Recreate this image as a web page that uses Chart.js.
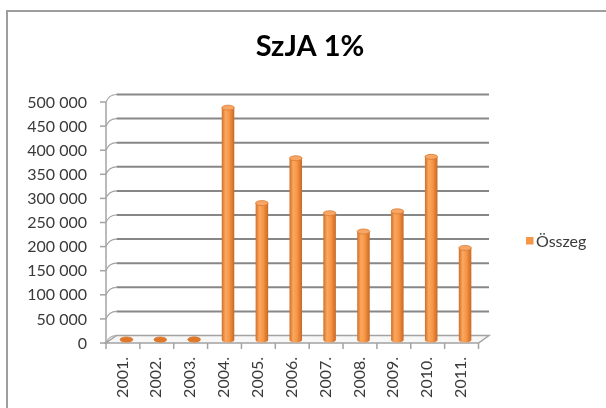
<!DOCTYPE html>
<html>
<head>
<meta charset="utf-8">
<script src="https://cdn.jsdelivr.net/npm/chart.js@4.4.1/dist/chart.umd.min.js"></script>
<style>
    html, body { margin: 0; padding: 0; background: #fff; }
    #wrap { width: 606px; height: 408px; }
</style>
</head>
<body>
<div id="wrap"><canvas id="myChart" width="606" height="408"></canvas></div>
<script>
// chart data
const chartTitle = 'SzJA 1%';
const seriesName = 'Összeg';
const years = ['2001.', '2002.', '2003.', '2004.', '2005.', '2006.', '2007.', '2008.', '2009.', '2010.', '2011.'];
const amounts = [1200, 1000, 1300, 482000, 284000, 377000, 263000, 225000, 267000, 380000, 191000];
const yTicks = [0, 50000, 100000, 150000, 200000, 250000, 300000, 350000, 400000, 450000, 500000];

const orange = '#F79646';
const gridColor = '#878787';
const axisColor = '#a3a3a3';
const textColor = '#3a3a3a';

// 3D offsets relative to the plane the bars stand in
const front = { dx: -3.5, dy: 3 };
const back = { dx: 7, dy: -4.5 };

function formatNumber(v) {
    return String(v).replace(/\B(?=(\d{3})+(?!\d))/g, ' ');
}

const excelLook = {
    id: 'excelLook',
    beforeDraw(chart) {
        const c = chart.ctx;
        c.save();
        c.fillStyle = '#fff';
        c.fillRect(0, 0, chart.width, chart.height);
        // outer frame (only top and left are inside the picture)
        c.strokeStyle = '#9e9e9e';
        c.lineWidth = 2;
        c.beginPath();
        c.moveTo(7, chart.height + 2);
        c.lineTo(7, 11);
        c.lineTo(chart.width + 2, 11);
        c.stroke();

        // title
        c.fillStyle = '#000';
        c.font = 'bold 29px Lato';
        c.textAlign = 'center';
        c.textBaseline = 'middle';
        c.fillText(chartTitle, 310, 47);

        // legend
        c.fillStyle = orange;
        c.fillRect(526, 237, 7.5, 7.5);
        c.fillStyle = textColor;
        c.font = '16px Lato';
        c.textAlign = 'left';
        c.fillText(seriesName, 536, 241.5);
        c.restore();
    },
    beforeDatasetsDraw(chart) {
        const c = chart.ctx;
        const a = chart.chartArea;
        const ys = chart.scales.y;
        const xs = chart.scales.x;
        const base = ys.getPixelForValue(0);
        c.save();

        // floor
        c.beginPath();
        c.moveTo(a.left + front.dx, base + front.dy);
        c.lineTo(a.right + front.dx, base + front.dy);
        c.lineTo(a.right + back.dx, base + back.dy);
        c.lineTo(a.left + back.dx, base + back.dy);
        c.closePath();
        c.fillStyle = '#f7f7f7';
        c.fill();
        c.strokeStyle = axisColor;
        c.lineWidth = 1.5;
        c.stroke();

        // back wall gridlines and the little side connectors
        yTicks.forEach(v => {
            const y = ys.getPixelForValue(v);
            c.beginPath();
            c.moveTo(a.left + front.dx, y + front.dy);
            c.quadraticCurveTo(a.left + front.dx + 3, y + back.dy, a.left + back.dx, y + back.dy);
            c.strokeStyle = axisColor;
            c.lineWidth = 1.2;
            c.stroke();
            if (v > 0) {
                c.beginPath();
                c.moveTo(a.left + back.dx, y + back.dy);
                c.lineTo(a.right + back.dx, y + back.dy);
                c.strokeStyle = gridColor;
                c.lineWidth = 2;
                c.stroke();
            }
            // tick mark on the front axis
            c.beginPath();
            c.moveTo(a.left + front.dx - 6, y + front.dy);
            c.lineTo(a.left + front.dx, y + front.dy);
            c.strokeStyle = axisColor;
            c.lineWidth = 1.5;
            c.stroke();
        });

        // front vertical axis
        c.beginPath();
        c.moveTo(a.left + front.dx, ys.getPixelForValue(yTicks[yTicks.length - 1]) + front.dy);
        c.lineTo(a.left + front.dx, base + front.dy);
        c.strokeStyle = axisColor;
        c.lineWidth = 1.5;
        c.stroke();

        // category ticks on the front edge
        const step = xs.getPixelForValue(1) - xs.getPixelForValue(0);
        for (let i = 0; i <= years.length; i++) {
            const x = xs.getPixelForValue(0) - step / 2 + i * step + front.dx;
            c.beginPath();
            c.moveTo(x, base + front.dy);
            c.lineTo(x, base + front.dy + 6);
            c.stroke();
        }
        c.restore();
    },
    afterDatasetsDraw(chart) {
        const c = chart.ctx;
        const meta = chart.getDatasetMeta(0);
        c.save();
        meta.data.forEach(bar => {
            const w = bar.width;
            const x0 = bar.x - w / 2;
            const ry = 2.5;
            const grad = c.createLinearGradient(x0, 0, x0 + w, 0);
            grad.addColorStop(0, '#d06f26');
            grad.addColorStop(0.3, '#fba75f');
            grad.addColorStop(0.6, '#f79646');
            grad.addColorStop(1, '#c96823');

            c.fillStyle = grad;
            c.beginPath();
            c.moveTo(x0, bar.y);
            c.lineTo(x0, bar.base);
            c.ellipse(bar.x, bar.base, w / 2, ry, 0, Math.PI, 0, true);
            c.lineTo(x0 + w, bar.y);
            c.closePath();
            c.fill();

            c.beginPath();
            c.ellipse(bar.x, bar.y, w / 2, ry, 0, 0, Math.PI * 2);
            c.fillStyle = bar.base - bar.y < 2 ? '#e0782c' : '#f8a665';
            c.fill();
            c.strokeStyle = '#d97a30';
            c.lineWidth = 0.8;
            c.stroke();
        });
        c.restore();
    }
};

const ctx = document.getElementById('myChart').getContext('2d');

const myChart = new Chart(ctx, {
    type: 'bar',
    data: {
        labels: years,
        datasets: [{
            label: seriesName,
            data: amounts,
            backgroundColor: 'rgba(0,0,0,0)',
            borderWidth: 0,
            barPercentage: 0.37,
            categoryPercentage: 1
        }]
    },
    options: {
        responsive: false,
        animation: false,
        devicePixelRatio: 1,
        layout: {
            padding: { top: 99, right: 124, bottom: 0, left: 0 }
        },
        plugins: {
            legend: { display: false },
            title: { display: false },
            tooltip: { enabled: false }
        },
        scales: {
            x: {
                grid: { display: false, drawTicks: false },
                border: { display: false },
                ticks: {
                    color: textColor,
                    font: { family: 'Lato', size: 16 },
                    minRotation: 90,
                    maxRotation: 90,
                    autoSkip: false,
                    padding: 17,
                    labelOffset: -4
                },
                afterFit(scale) { scale.height = 68; }
            },
            y: {
                min: 0,
                max: 500000,
                grid: { display: false, drawTicks: false },
                border: { display: false },
                ticks: {
                    color: textColor,
                    font: { family: 'Lato', size: 16 },
                    padding: 22.5,
                    labelOffset: 3.5,
                    callback: value => formatNumber(value)
                },
                afterBuildTicks(scale) {
                    scale.ticks = yTicks.map(v => ({ value: v }));
                },
                afterFit(scale) { scale.width = 109.5; }
            }
        }
    },
    plugins: [excelLook]
});
</script>
</body>
</html>
